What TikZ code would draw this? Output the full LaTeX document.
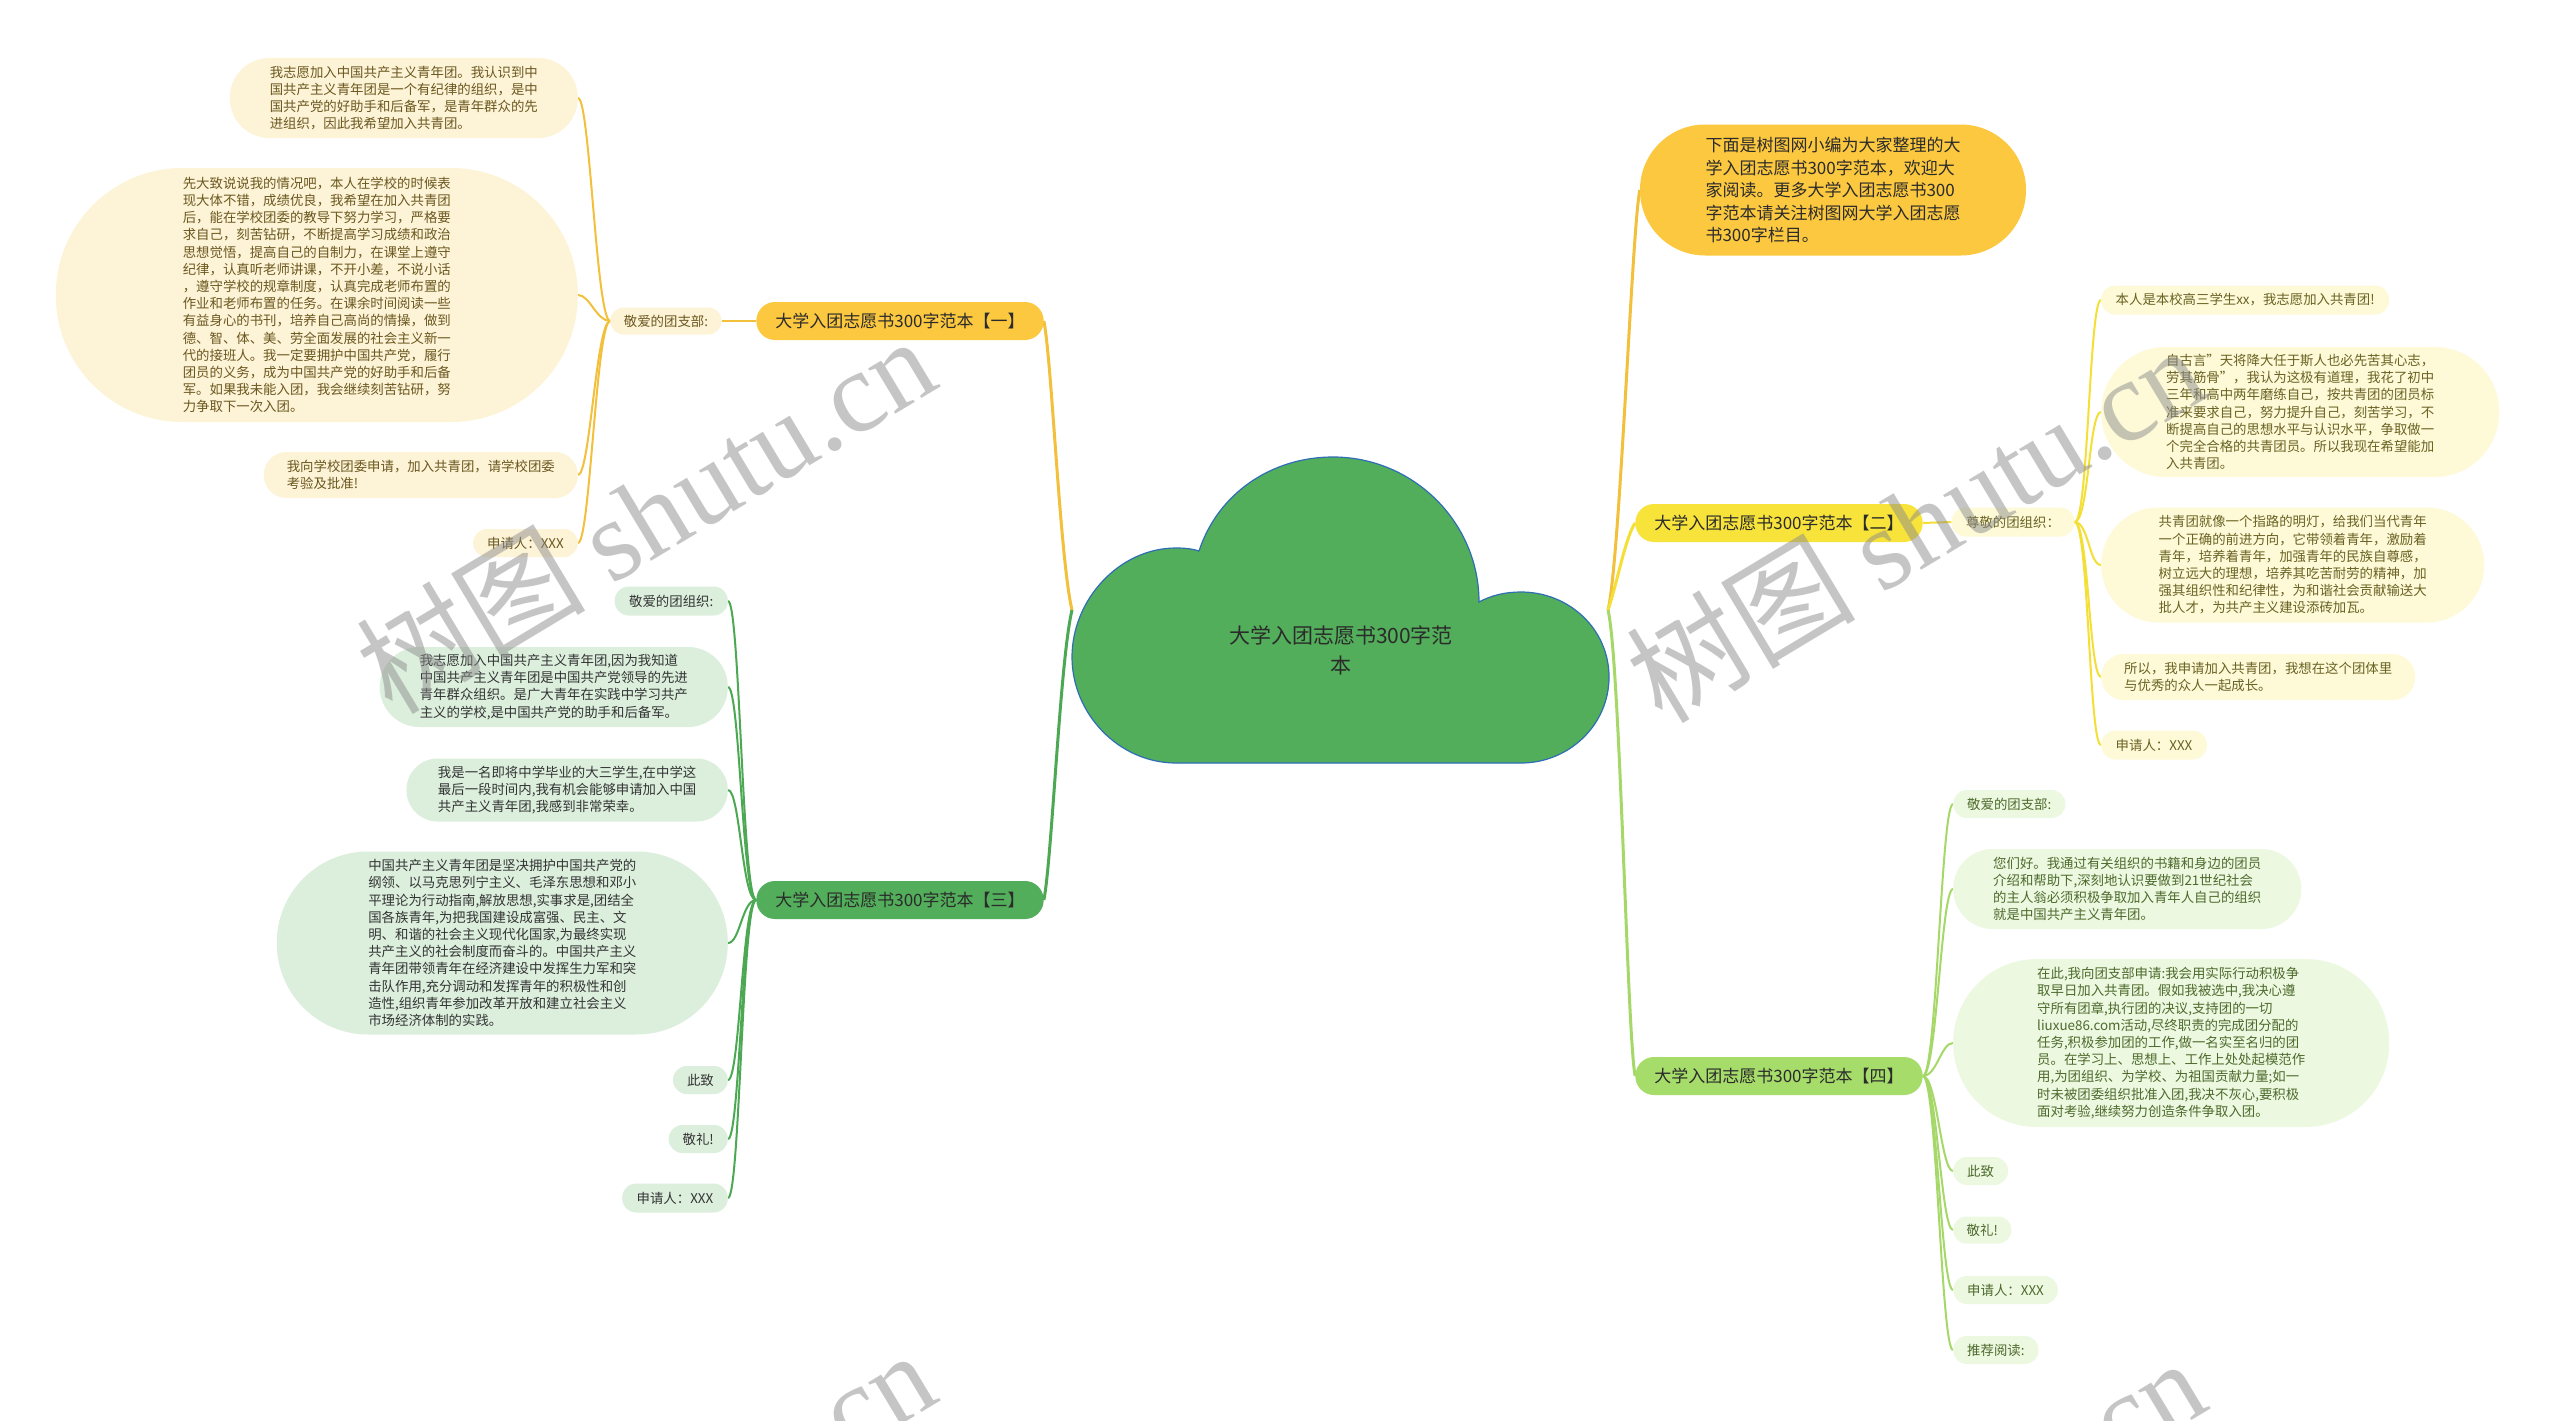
\documentclass[tikz,border=0pt]{standalone}
\usepackage{fontspec}
\setmainfont{Noto Sans CJK SC}
\newfontfamily\wmserif{Liberation Serif}
\usetikzlibrary{calc}
\definecolor{fillA}{HTML}{FDF3D6}\definecolor{textA}{HTML}{6B5820}
\definecolor{fillB}{HTML}{FEFAD8}\definecolor{textB}{HTML}{6A6223}
\definecolor{fillC}{HTML}{DCEFDD}\definecolor{textC}{HTML}{333333}
\definecolor{fillD}{HTML}{EDF8E1}\definecolor{textD}{HTML}{4D6A2C}
\definecolor{gold}{HTML}{FCC83F}\definecolor{yel}{HTML}{F8E33B}
\definecolor{grn}{HTML}{52AE5A}\definecolor{lgr}{HTML}{A6DC6A}
\definecolor{lineA}{HTML}{F3C03C}\definecolor{lineB}{HTML}{F3DF35}
\definecolor{lineC}{HTML}{4CA852}\definecolor{lineD}{HTML}{A5D868}
\definecolor{darktext}{HTML}{2B2B2B}\definecolor{cloudline}{HTML}{2F6EB5}
\pgfdeclarelayer{bg}\pgfsetlayers{bg,main}
\begin{document}
\begin{tikzpicture}[x=1pt,y=-1pt,
  pill/.style={rectangle, minimum height=#1pt, inner xsep=#1pt/2, inner ysep=0pt, rounded corners=#1pt/2-0.3pt},
  leaf/.style={align=left, font=\fontsize{13.4}{17.2}\selectfont},
  leafA/.style={leaf, fill=fillA, text=textA},
  leafB/.style={leaf, fill=fillB, text=textB},
  leafC/.style={leaf, fill=fillC, text=textC},
  leafD/.style={leaf, fill=fillD, text=textD},
  branch/.style={pill=38, font=\fontsize{17}{22.5}\selectfont, text=darktext},
  wA/.style={draw=lineA, line width=2pt},
  wB/.style={draw=lineB, line width=2pt},
  wC/.style={draw=lineC, line width=2pt},
  wD/.style={draw=lineD, line width=2pt},
  mainw/.style={line width=3pt},
  wmark/.style={rotate=31, text=black!45, text opacity=0.5, font=\fontsize{115}{120}\selectfont}
]
\useasboundingbox (0,0) rectangle (2560,1421);

% central cloud
\filldraw[fill=grn, draw=cloudline, line width=1.2pt]
  (1176,763) .. controls (1119,763) and (1072,714) .. (1072,657)
  .. controls (1072,600) and (1119,548) .. (1176,548)
  .. controls (1186,548) and (1193,549) .. (1199,551)
  .. controls (1218,493) and (1272,457) .. (1333,457)
  .. controls (1413,457) and (1479,522) .. (1479,602)
  .. controls (1492,595) and (1506,592) .. (1521,592)
  .. controls (1569,592) and (1609,629) .. (1609,677)
  .. controls (1609,725) and (1569,763) .. (1521,763)
  -- cycle;
\node[align=center, text=darktext, font=\fontsize{21}{30}\selectfont] (root) at (1341,650) {大学入团志愿书300字范\\本};
\coordinate (cL) at (1072,610);
\coordinate (cR) at (1608,610);

% branch nodes
\node[branch, fill=gold] (b1) at (900,321) {大学入团志愿书300字范本【一】};
\node[branch, fill=yel] (b2) at (1779,523) {大学入团志愿书300字范本【二】};
\node[branch, fill=grn] (b3) at (900,900) {大学入团志愿书300字范本【三】};
\node[branch, fill=lgr] (b4) at (1779,1076) {大学入团志愿书300字范本【四】};
\node[pill=131, fill=gold, align=left, text=darktext, font=\fontsize{17}{22.5}\selectfont] (intro) at (1833,190)
 {下面是树图网小编为大家整理的大\\学入团志愿书300字范本，欢迎大\\家阅读。更多大学入团志愿书300\\字范本请关注树图网大学入团志愿\\书300字栏目。};

% branch one
\node[leafA, pill=27] (a0) at (666,321) {敬爱的团支部:};
\node[leafA, pill=80, anchor=east] (a1) at (578,98) {我志愿加入中国共产主义青年团。我认识到中\\国共产主义青年团是一个有纪律的组织，是中\\国共产党的好助手和后备军，是青年群众的先\\进组织，因此我希望加入共青团。};
\node[leafA, pill=254, anchor=east] (a2) at (578,295) {先大致说说我的情况吧，本人在学校的时候表\\现大体不错，成绩优良，我希望在加入共青团\\后，能在学校团委的教导下努力学习，严格要\\求自己，刻苦钻研，不断提高学习成绩和政治\\思想觉悟，提高自己的自制力，在课堂上遵守\\纪律，认真听老师讲课，不开小差，不说小话\\，遵守学校的规章制度，认真完成老师布置的\\作业和老师布置的任务。在课余时间阅读一些\\有益身心的书刊，培养自己高尚的情操，做到\\德、智、体、美、劳全面发展的社会主义新一\\代的接班人。我一定要拥护中国共产党，履行\\团员的义务，成为中国共产党的好助手和后备\\军。如果我未能入团，我会继续刻苦钻研，努\\力争取下一次入团。};
\node[leafA, pill=46, anchor=east] (a3) at (578,475) {我向学校团委申请，加入共青团，请学校团委\\考验及批准!};
\node[leafA, pill=28, anchor=east] (a4) at (578,543) {申请人：XXX};

% branch three
\node[leafC, pill=29, anchor=east] (c0) at (728,601) {敬爱的团组织:};
\node[leafC, pill=80, anchor=east] (c1) at (728,687) {我志愿加入中国共产主义青年团,因为我知道\\中国共产主义青年团是中国共产党领导的先进\\青年群众组织。是广大青年在实践中学习共产\\主义的学校,是中国共产党的助手和后备军。};
\node[leafC, pill=63, anchor=east] (c2) at (728,790) {我是一名即将中学毕业的大三学生,在中学这\\最后一段时间内,我有机会能够申请加入中国\\共产主义青年团,我感到非常荣幸。};
\node[leafC, pill=183, anchor=east] (c3) at (728,943) {中国共产主义青年团是坚决拥护中国共产党的\\纲领、以马克思列宁主义、毛泽东思想和邓小\\平理论为行动指南,解放思想,实事求是,团结全\\国各族青年,为把我国建设成富强、民主、文\\明、和谐的社会主义现代化国家,为最终实现\\共产主义的社会制度而奋斗的。中国共产主义\\青年团带领青年在经济建设中发挥生力军和突\\击队作用,充分调动和发挥青年的积极性和创\\造性,组织青年参加改革开放和建立社会主义\\市场经济体制的实践。};
\node[leafC, pill=28, anchor=east] (c4) at (728,1080) {此致};
\node[leafC, pill=28, anchor=east] (c5) at (728,1139) {敬礼!};
\node[leafC, pill=29, anchor=east] (c6) at (728,1198) {申请人：XXX};

% branch two
\node[leafB, pill=29] (d0) at (2013,522) {尊敬的团组织：};
\node[leafB, pill=29, anchor=west] (d1) at (2101,300) {本人是本校高三学生xx，我志愿加入共青团!};
\node[leafB, pill=130, anchor=west] (d2) at (2101,412) {自古言"天将降大任于斯人也必先苦其心志，\\劳其筋骨"，我认为这极有道理，我花了初中\\三年和高中两年磨练自己，按共青团的团员标\\准来要求自己，努力提升自己，刻苦学习，不\\断提高自己的思想水平与认识水平，争取做一\\个完全合格的共青团员。所以我现在希望能加\\入共青团。};
\node[leafB, pill=115, anchor=west] (d3) at (2101,565) {共青团就像一个指路的明灯，给我们当代青年\\一个正确的前进方向，它带领着青年，激励着\\青年，培养着青年，加强青年的民族自尊感，\\树立远大的理想，培养其吃苦耐劳的精神，加\\强其组织性和纪律性，为和谐社会贡献输送大\\批人才，为共产主义建设添砖加瓦。};
\node[leafB, pill=46, anchor=west] (d4) at (2101,677) {所以，我申请加入共青团，我想在这个团体里\\与优秀的众人一起成长。};
\node[leafB, pill=29, anchor=west] (d5) at (2101,745) {申请人：XXX};

% branch four
\node[leafD, pill=28, anchor=west] (e1) at (1953,804) {敬爱的团支部:};
\node[leafD, pill=80, anchor=west] (e2) at (1953,889) {您们好。我通过有关组织的书籍和身边的团员\\介绍和帮助下,深刻地认识要做到21世纪社会\\的主人翁必须积极争取加入青年人自己的组织\\就是中国共产主义青年团。};
\node[leafD, pill=168, anchor=west] (e3) at (1953,1043) {在此,我向团支部申请:我会用实际行动积极争\\取早日加入共青团。假如我被选中,我决心遵\\守所有团章,执行团的决议,支持团的一切\\liuxue86.com活动,尽终职责的完成团分配的\\任务,积极参加团的工作,做一名实至名归的团\\员。在学习上、思想上、工作上处处起模范作\\用,为团组织、为学校、为祖国贡献力量;如一\\时未被团委组织批准入团,我决不灰心,要积极\\面对考验,继续努力创造条件争取入团。};
\node[leafD, pill=28, anchor=west] (e4) at (1953,1171) {此致};
\node[leafD, pill=27, anchor=west] (e5) at (1953,1230) {敬礼!};
\node[leafD, pill=28, anchor=west] (e6) at (1953,1290) {申请人：XXX};
\node[leafD, pill=28, anchor=west] (e7) at (1953,1350) {推荐阅读:};

\begin{pgfonlayer}{bg}
\fill[white] (0,0) rectangle (2560,1421);
% main connectors
\draw[mainw, draw=lineA] (cL) .. controls ($(cL)+(-12,-50)$) and ($(b1.east)+(8,40)$) .. (b1.east);
\draw[mainw, draw=lineC] (cL) .. controls ($(cL)+(-12,50)$) and ($(b3.east)+(8,-40)$) .. (b3.east);
\draw[mainw, draw=lineA] (cR) .. controls ($(cR)+(12,-50)$) and ($(intro.west)+(-8,40)$) .. (intro.west);
\draw[mainw, draw=lineB] (cR) .. controls ($(cR)+(10,-30)$) and ($(b2.west)+(-10,15)$) .. (b2.west);
\draw[mainw, draw=lineD] (cR) .. controls ($(cR)+(12,50)$) and ($(b4.west)+(-8,-40)$) .. (b4.west);
% branch connectors
\draw[wA] (b1.west) -- (a0.east);
\foreach \n in {a1,a2,a3,a4}
  \draw[wA] (a0.west) .. controls ($(a0.west)+(-14,0)$) and ($(\n.east)+(12,0)$) .. (\n.east);
\foreach \n in {c0,c1,c2,c3,c4,c5,c6}
  \draw[wC] (b3.west) .. controls ($(b3.west)+(-14,0)$) and ($(\n.east)+(12,0)$) .. (\n.east);
\draw[wB] (b2.east) -- (d0.west);
\foreach \n in {d1,d2,d3,d4,d5}
  \draw[wB] (d0.east) .. controls ($(d0.east)+(14,0)$) and ($(\n.west)+(-12,0)$) .. (\n.west);
\foreach \n in {e1,e2,e3,e4,e5,e6,e7}
  \draw[wD] (b4.east) .. controls ($(b4.east)+(14,0)$) and ($(\n.west)+(-12,0)$) .. (\n.west);
\end{pgfonlayer}

% watermarks
\begin{scope}
\clip (0,0) rectangle (2560,1421);
\node[wmark] (wm1) at (645,514) {树图 {\wmserif shutu.cn}};
\node[wmark] (wm2) at (1915,523) {树图 {\wmserif shutu.cn}};
\node[wmark] (wm3) at (645,1528) {树图 {\wmserif shutu.cn}};
\node[wmark] (wm4) at (1915,1536) {树图 {\wmserif shutu.cn}};
\end{scope}
\end{tikzpicture}
\end{document}
